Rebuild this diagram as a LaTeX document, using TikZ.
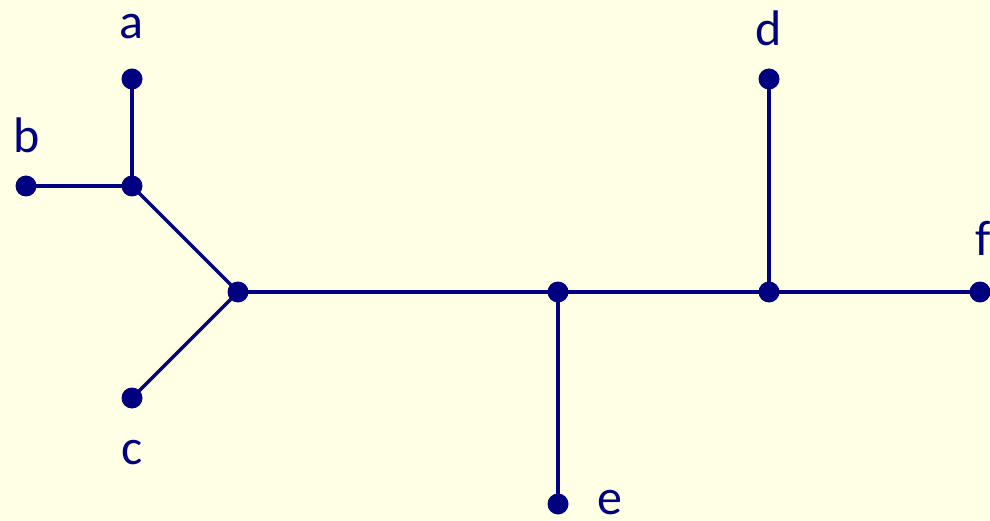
\documentclass[tikz,border=0pt]{standalone}
\usepackage{fontspec}
\setmainfont{Carlito}
\definecolor{bgc}{HTML}{FFFFE6}
\definecolor{navy}{HTML}{000080}
\begin{document}
\begin{tikzpicture}[x=1pt,y=-1pt,
  dot/.style={circle,fill=navy,inner sep=0pt,minimum size=21pt},
  edge/.style={draw=navy,line width=3.2pt},
  lbl/.style={anchor=base,text=navy,font=\fontsize{50}{60}\selectfont,inner sep=0pt}]
\fill[bgc] (0,0) rectangle (990,521);
\useasboundingbox (0,0) rectangle (990,521);
\coordinate (A) at (132,79);
\coordinate (B) at (26,186);
\coordinate (J1) at (132,186);
\coordinate (J2) at (238,292);
\coordinate (C) at (132,398);
\coordinate (J3) at (558,292);
\coordinate (E) at (558,504);
\coordinate (J4) at (769,292);
\coordinate (D) at (769,79);
\coordinate (F) at (980,292);
\draw[edge] (A) -- (J1);
\draw[edge] (B) -- (J1);
\draw[edge] (J1) -- (J2);
\draw[edge] (C) -- (J2);
\draw[edge] (J2) -- (J3);
\draw[edge] (J3) -- (E);
\draw[edge] (J3) -- (J4);
\draw[edge] (J4) -- (D);
\draw[edge] (J4) -- (F);
\foreach \p in {A,B,J1,J2,C,J3,E,J4,D,F} \node[dot] (n\p) at (\p) {};
\node[lbl] (la) at (131,39) {a};
\node[lbl] (lb) at (27,153) {b};
\node[lbl] (lc) at (132,464) {c};
\node[lbl] (ld) at (769,46) {d};
\node[lbl] (le) at (610,514) {e};
\node[lbl] (lf) at (983,256) {f};
\end{tikzpicture}
\end{document}
